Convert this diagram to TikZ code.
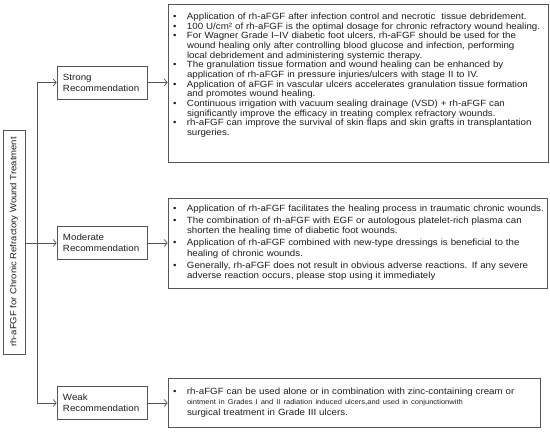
\documentclass[tikz,border=0pt]{standalone}
\usepackage{fontspec}
\setmainfont[FakeStretch=1.08]{Liberation Sans}
\usepackage{graphicx}
\usepackage{array}
\usetikzlibrary{arrows.meta}
\definecolor{lineg}{HTML}{555555}
\definecolor{textg}{HTML}{1E1E1E}

\newcommand{\listfont}{\fontsize{9}{9.65}\selectfont}
\newcommand{\modfont}{\fontsize{9}{10.6}\selectfont}

\begin{document}
\begin{tikzpicture}[x=1pt, y=-1pt, text=textg,
  recbox/.style={draw=lineg, line width=0.7pt, minimum width=90pt, minimum height=33pt,
    inner xsep=6pt, text width=78pt, align=left, font=\fontsize{9}{11}\selectfont},
  listbox/.style={draw=lineg, line width=0.7pt, inner xsep=5pt, inner ysep=0pt, align=left},
  link/.style={draw=lineg, line width=0.7pt, -{Straight Barb[length=3pt,width=7pt]}}]
  \useasboundingbox (0,0) rectangle (550,433);

  % radice, testo ruotato
  \node[draw=lineg, line width=0.7pt, minimum width=22pt, minimum height=224pt, inner sep=0pt,
    font=\fontsize{8.8}{10}\selectfont] (root) at (14,242)
    {\rotatebox{90}{rh-aFGF for Chronic Refractory Wound Treatment}};

  % livelli di raccomandazione
  \node[recbox] (strong) at (102,82.5) {Strong\\Recommendation};
  \node[recbox] (moderate) at (102,243) {Moderate\\Recommendation};
  \node[recbox] (weak) at (102,403) {Weak\\Recommendation};

  % caselle di testo
  \node[listbox, minimum width=380pt, minimum height=158pt, text width=370pt, font=\listfont] (strongtxt) at (358,83) {%
    \begin{tabular}{@{}p{14pt}@{}l@{}}
    \textbullet & Application of rh-aFGF after infection control and necrotic\ \ tissue debridement.\\
    \textbullet & 100 U/cm² of rh-aFGF is the optimal dosage for chronic refractory wound healing.\\
    \textbullet & For Wagner Grade I–IV diabetic foot ulcers, rh-aFGF should be used for the\\
                & wound healing only after controlling blood glucose and infection, performing\\
                & local debridement and administering systemic therapy.\\
    \textbullet & The granulation tissue formation and wound healing can be enhanced by\\
                & application of rh-aFGF in pressure injuries/ulcers with stage II to IV.\\
    \textbullet & Application of aFGF in vascular ulcers accelerates granulation tissue formation\\
                & and promotes wound healing.\\
    \textbullet & Continuous irrigation with vacuum sealing drainage (VSD) + rh-aFGF can\\
                & significantly improve the efficacy in treating complex refractory wounds.\\
    \textbullet & rh-aFGF can improve the survival of skin flaps and skin grafts in transplantation\\
                & surgeries.\\[15pt]
    \end{tabular}};
  \node[listbox, minimum width=379pt, minimum height=90pt, text width=369pt, font=\modfont] (moderatetxt) at (357.5,243) {%
    \begin{tabular}{@{}p{14pt}@{}l@{}}
    \textbullet & Application of rh-aFGF facilitates the healing process in traumatic chronic wounds.\\[1.2pt]
    \textbullet & The combination of rh-aFGF with EGF or autologous platelet-rich plasma can\\
                & shorten the healing time of diabetic foot wounds.\\[1.2pt]
    \textbullet & Application of rh-aFGF combined with new-type dressings is beneficial to the\\
                & healing of chronic wounds.\\[1.2pt]
    \textbullet & Generally, rh-aFGF does not result in obvious adverse reactions. If any severe\\
                & adverse reaction occurs, please stop using it immediately
    \end{tabular}};
  \node[listbox, minimum width=372pt, minimum height=49pt, text width=362pt, font=\modfont] (weaktxt) at (354,402.5) {%
    \begin{tabular}{@{}p{14pt}@{}l@{}}
    \textbullet & rh-aFGF can be used alone or in combination with zinc-containing cream or\\
                & {\fontsize{7}{7.5}\selectfont ointment in Grades I and II radiation induced ulcers,and used in conjunctionwith}\\
                & surgical treatment in Grade III ulcers.
    \end{tabular}};

  % collegamenti
  \coordinate (spine) at (37,243);
  \draw[link] (root.east |- moderate.west) -- (moderate.west);
  \draw[link] (spine) |- (strong.west);
  \draw[link] (spine) |- (weak.west);
  \draw[link] (strong.east) -- (strong.east -| strongtxt.west);
  \draw[link] (moderate.east) -- (moderate.east -| moderatetxt.west);
  \draw[link] (weak.east) -- (weak.east -| weaktxt.west);
\end{tikzpicture}
\end{document}
